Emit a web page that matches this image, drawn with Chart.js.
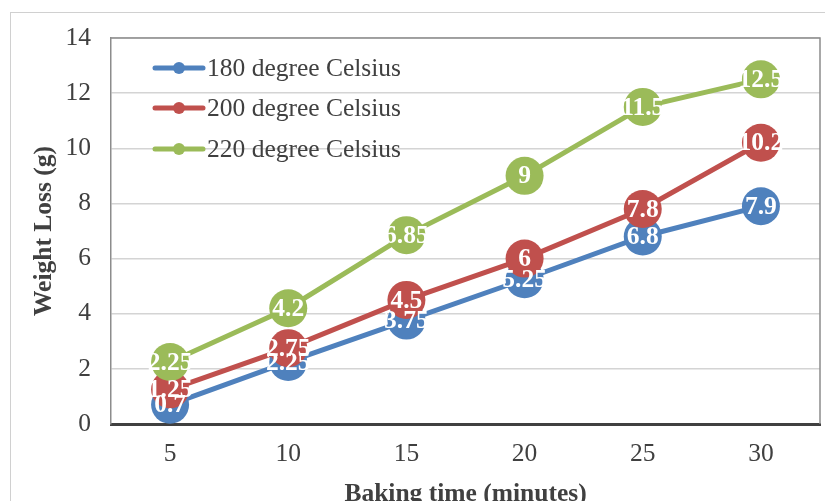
<!DOCTYPE html>
<html>
<head>
<meta charset="utf-8">
<script src="https://cdn.jsdelivr.net/npm/chart.js@4/dist/chart.umd.min.js"></script>
<style>
  html, body { margin: 0; padding: 0; background: #fff; }
  #wrap { width: 825px; height: 501px; position: relative; }
</style>
</head>
<body>
<div id="wrap"><canvas id="c" width="825" height="501"></canvas></div>
<script>
// Baking time (minutes) on the x axis
const bakingTimes = ['5', '10', '15', '20', '25', '30'];
// Weight loss (g) for each oven temperature
const loss180 = [0.7, 2.25, 3.75, 5.25, 6.8, 7.9];
const loss200 = [1.25, 2.75, 4.5, 6, 7.8, 10.2];
const loss220 = [2.25, 4.2, 6.85, 9, 11.5, 12.5];
const seriesNames = ['180 degree Celsius', '200 degree Celsius', '220 degree Celsius'];

const SERIF = "'Liberation Serif', 'Times New Roman', serif";
const TEXT = '#404040';
const FS = 25.5;
const colors = ['#4f81bd', '#c0504d', '#9bbb59'];

// Outer frame and the grey box around the plot area
const framePlugin = {
  id: 'frame',
  beforeDraw(chart) {
    const ctx = chart.ctx;
    ctx.save();
    ctx.fillStyle = '#fff';
    ctx.fillRect(0, 0, chart.width, chart.height);
    ctx.strokeStyle = '#d0d0d0';
    ctx.lineWidth = 1;
    ctx.strokeRect(10.5, 12.5, 900, 600);
    ctx.restore();
  },
  beforeDatasetsDraw(chart) {
    const a = chart.chartArea, ctx = chart.ctx;
    ctx.save();
    ctx.strokeStyle = '#8c8c8c';
    ctx.lineWidth = 1.5;
    ctx.beginPath();
    ctx.moveTo(a.left, a.top);
    ctx.lineTo(a.right, a.top);
    ctx.lineTo(a.right, a.bottom);
    ctx.stroke();
    ctx.restore();
  }
};

// Value labels written on top of each marker
const valueLabels = {
  id: 'valueLabels',
  afterDatasetsDraw(chart) {
    const ctx = chart.ctx;
    ctx.save();
    ctx.font = 'bold ' + FS + 'px ' + SERIF;
    ctx.fillStyle = '#fff';
    ctx.textAlign = 'center';
    ctx.textBaseline = 'middle';
    chart.data.datasets.forEach((ds, i) => {
      const meta = chart.getDatasetMeta(i);
      meta.data.forEach((pt, j) => {
        ctx.fillText(String(ds.data[j]), pt.x, pt.y + 1);
      });
    });
    ctx.restore();
  }
};

// Legend drawn inside the plot area, top left
const insideLegend = {
  id: 'insideLegend',
  afterDraw(chart) {
    const ctx = chart.ctx;
    const x0 = 155, x1 = 203, ys = [68, 108, 149];
    ctx.save();
    chart.data.datasets.forEach((ds, i) => {
      const y = ys[i];
      ctx.strokeStyle = ds.borderColor;
      ctx.lineWidth = 5;
      ctx.lineCap = 'round';
      ctx.beginPath();
      ctx.moveTo(x0, y);
      ctx.lineTo(x1, y);
      ctx.stroke();
      ctx.fillStyle = ds.borderColor;
      ctx.beginPath();
      ctx.arc((x0 + x1) / 2, y, 6, 0, Math.PI * 2);
      ctx.fill();
      ctx.fillStyle = TEXT;
      ctx.font = FS + 'px ' + SERIF;
      ctx.textAlign = 'left';
      ctx.textBaseline = 'middle';
      ctx.fillText(ds.label, x1 + 4, y + 1);
    });
    ctx.restore();
  }
};

const seriesData = [loss180, loss200, loss220];

new Chart(document.getElementById('c'), {
  type: 'line',
  data: {
    labels: bakingTimes,
    datasets: seriesData.map((d, i) => ({
      label: seriesNames[i],
      data: d,
      borderColor: colors[i],
      backgroundColor: colors[i],
      pointBackgroundColor: colors[i],
      pointBorderColor: colors[i],
      borderWidth: 5,
      pointRadius: 19,
      pointBorderWidth: 0,
      tension: 0,
      clip: false,
      order: 3 - i
    }))
  },
  options: {
    responsive: false,
    animation: false,
    events: [],
    layout: { autoPadding: false, padding: { top: 38, right: 5, left: 0, bottom: 0 } },
    plugins: { legend: { display: false }, tooltip: { enabled: false } },
    scales: {
      x: {
        offset: true,
        grid: { display: false, drawTicks: false },
        border: { display: true, color: '#404040', width: 3 },
        ticks: { color: TEXT, font: { family: SERIF, size: FS }, padding: 15, maxRotation: 0 },
        title: {
          display: true, text: 'Baking time (minutes)', color: TEXT,
          font: { family: SERIF, size: FS, weight: 'bold', lineHeight: 0.52 }, padding: { top: 0, bottom: 0 }
        },
        afterFit(scale) {
          scale.height = 77;
          scale.paddingLeft = 0;
          scale.paddingRight = 0;
        }
      },
      y: {
        min: 0, max: 14,
        grid: { color: '#d4d4d4', lineWidth: 1.5, drawTicks: false },
        border: { display: true, color: '#8c8c8c', width: 1.5 },
        ticks: { stepSize: 2, color: TEXT, font: { family: SERIF, size: FS }, padding: 20 },
        title: {
          display: true, text: 'Weight Loss (g)', color: TEXT,
          font: { family: SERIF, size: FS, weight: 'bold' }, padding: { top: 29, bottom: 0 }
        },
        afterFit(scale) {
          scale.width = 111;
          scale.paddingTop = 0;
          scale.paddingBottom = 0;
        }
      }
    }
  },
  plugins: [framePlugin, valueLabels, insideLegend]
});
</script>
</body>
</html>
